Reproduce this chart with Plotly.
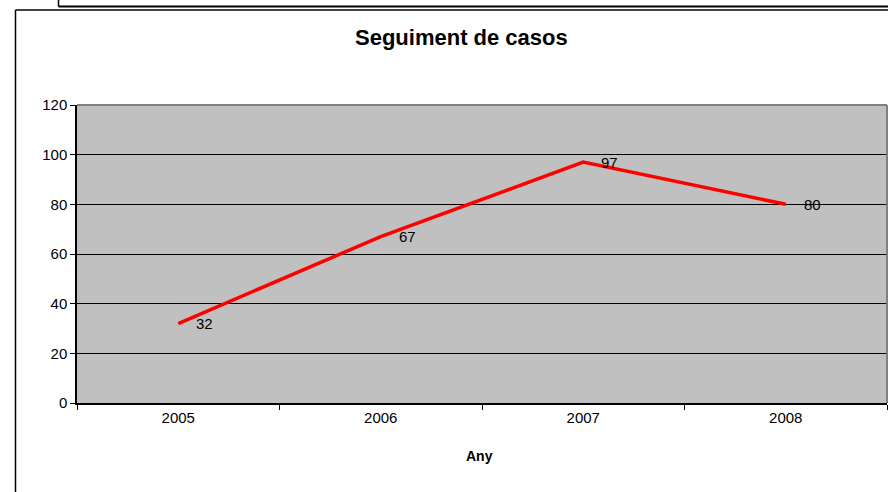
import plotly.graph_objects as go

years = ["2005", "2006", "2007", "2008"]
cases = [32, 67, 97, 80]
y_ticks = [0, 20, 40, 60, 80, 100, 120]

W, H = 888, 492
L, R, T, B = 77, 887, 105, 403
FONT = "Liberation Sans, Arial"


def px(x):
    return (x - L) / (R - L)


def py(y):
    return (B - y) / (B - T)


fig = go.Figure()
fig.add_trace(go.Scatter(x=years, y=cases, mode="lines",
                         line=dict(color="#FF0000", width=3.5),
                         hoverinfo="skip", showlegend=False))

annotations = []
for i, v in enumerate(cases):
    annotations.append(dict(x=i, y=v, xref="x", yref="y", text=str(v),
                            showarrow=False, xanchor="left", yanchor="middle",
                            xshift=16, yshift=0,
                            font=dict(family=FONT, size=15, color="#000")))
annotations.append(dict(x=px(461), y=py(38), xref="paper", yref="paper",
                        text="<b>Seguiment de casos</b>", showarrow=False,
                        xanchor="center", yanchor="middle",
                        font=dict(family=FONT, size=22, color="#000")))
annotations.append(dict(x=px(479), y=py(456), xref="paper", yref="paper",
                        text="<b>Any</b>", showarrow=False,
                        xanchor="center", yanchor="middle",
                        font=dict(family=FONT, size=14, color="#000")))

shapes = [
    # plot area top/right gray border
    dict(type="line", xref="paper", yref="paper", x0=0, x1=1, y0=1, y1=1,
         line=dict(color="#808080", width=2)),
    dict(type="line", xref="paper", yref="paper", x0=1, x1=1, y0=0, y1=1,
         line=dict(color="#808080", width=2)),
    # outer chart frame
    dict(type="line", xref="paper", yref="paper", x0=px(15.5), x1=px(890), y0=py(10), y1=py(10),
         line=dict(color="#000", width=1.5)),
    dict(type="line", xref="paper", yref="paper", x0=px(15.5), x1=px(15.5), y0=py(10), y1=py(495),
         line=dict(color="#000", width=1.5)),
    # upper box
    dict(type="line", xref="paper", yref="paper", x0=px(58.5), x1=px(890), y0=py(6.5), y1=py(6.5),
         line=dict(color="#000", width=2)),
    dict(type="line", xref="paper", yref="paper", x0=px(58.5), x1=px(58.5), y0=py(-2), y1=py(6.5),
         line=dict(color="#000", width=1.5)),
]

fig.update_layout(
    width=W, height=H,
    margin=dict(l=L, r=W - R, t=T, b=H - B),
    paper_bgcolor="#FFFFFF",
    plot_bgcolor="#C0C0C0",
    font=dict(family=FONT, size=15, color="#000"),
    annotations=annotations,
    shapes=shapes,
    xaxis=dict(type="category", range=[-0.5, 3.5], showgrid=False,
               showline=True, linecolor="#000", linewidth=1.5,
               ticks="outside", tickson="boundaries", ticklen=5, tickcolor="#000",
               tickfont=dict(size=15), zeroline=False, fixedrange=True),
    yaxis=dict(range=[0, 120], tickvals=y_ticks, showgrid=True, gridcolor="#000",
               gridwidth=1, showline=True, linecolor="#000", linewidth=1.5,
               ticks="outside", ticklen=5, tickcolor="#000", zeroline=False,
               tickfont=dict(size=15), fixedrange=True),
)

fig.write_html("out.html", config={"displayModeBar": False},
               post_script="document.body.style.margin='0';document.body.style.overflow='hidden';")
